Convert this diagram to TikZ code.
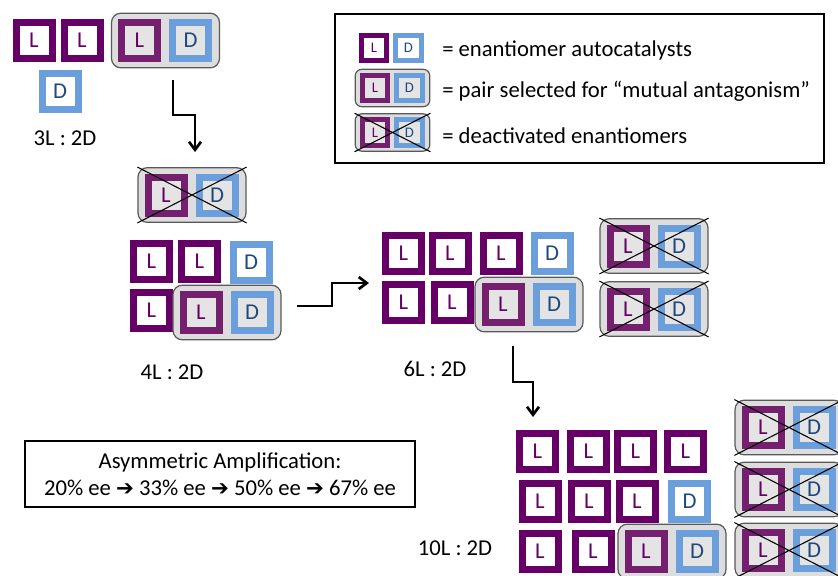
\documentclass[tikz,border=0pt]{standalone}
\usepackage{fontspec}
\setmainfont{Carlito}
\newfontfamily\symfont{DejaVu Sans}
\usetikzlibrary{arrows.meta,shadows}
\definecolor{lpur}{HTML}{660066}
\definecolor{lpursel}{HTML}{74206F}
\definecolor{dbl}{HTML}{6A9FDB}
\definecolor{dbltxt}{HTML}{1F497D}
\definecolor{selfill}{HTML}{E4E4E4}
\definecolor{grpfill}{HTML}{DDDDDD}
\tikzset{
  sqshadow/.style={drop shadow={shadow xshift=1.2pt,shadow yshift=-1.2pt,opacity=0.3}},
  Lsq/.style={draw=lpur, line width=5.25pt, fill=white, minimum size=27pt, inner sep=0pt,
    text=lpur, font=\fontsize{17}{17}\selectfont, sqshadow},
  Dsq/.style={draw=dbl, line width=5.25pt, fill=white, minimum size=27pt, inner sep=0pt,
    text=dbltxt, font=\fontsize{17}{17}\selectfont, sqshadow},
  selL/.style={draw=lpursel, fill=selfill},
  selD/.style={fill=selfill},
  small/.style={line width=3.75pt, minimum size=19pt, font=\fontsize{11}{11}\selectfont},
  grp/.style={draw=black!65, fill=grpfill, rounded corners=7pt, line width=0.9pt,
    minimum width=81pt, minimum height=41pt, inner sep=0pt},
  sgrp/.style={minimum width=56pt, minimum height=28pt, rounded corners=5pt},
  xline/.style={line width=0.8pt, black},
  flow/.style={line width=2pt, -{Straight Barb[length=6pt,width=9pt,line width=2pt]}},
  lbl/.style={font=\fontsize{17}{17}\selectfont, inner sep=0pt},
  box/.style={draw=black, line width=0.9pt}
}
\newcommand\selpair[3]{%
  \node[grp] (#1) at (#2,#3) {};
  \node[Lsq,selL] (#1-L) at (#2-26,#3) {L};
  \node[Dsq,selD] (#1-D) at (#2+25,#3) {D};
}
\newcommand\deadpair[3]{%
  \selpair{#1}{#2}{#3}
  \draw[xline] (#1.north west) -- (#1.south east) (#1.south west) -- (#1.north east);
}
\newcommand\harr{{\symfont\fontsize{16}{16}\selectfont ➔}}
\begin{document}
\begin{tikzpicture}[x=0.75pt,y=-0.75pt]
\path[use as bounding box, clip] (0,0) rectangle (838,575);

% ---------- Section 3L:2D ----------
\node[Lsq] (a1) at (34,40) {L};
\node[Lsq] (a2) at (82,40) {L};
\selpair{ga}{165.5}{40.5}
\node[Dsq] (a3) at (60,91) {D};
\node[lbl] (ta) at (65,138) {3L : 2D};

% ---------- Section 4L:2D ----------
\deadpair{xb}{192}{195}
\node[Lsq] (b1) at (151.5,261) {L};
\node[Lsq] (b2) at (199.5,261) {L};
\node[Dsq] (b3) at (251,262) {D};
\node[Lsq] (b4) at (151.5,310) {L};
\selpair{gb}{227}{312.5}
\node[lbl] (tb) at (172,372) {4L : 2D};

% ---------- Section 6L:2D ----------
\node[Lsq] (c1) at (403.5,253) {L};
\node[Lsq] (c2) at (450,253) {L};
\node[Lsq] (c3) at (501,253) {L};
\node[Dsq] (c4) at (552,253) {D};
\node[Lsq] (c5) at (403.5,302) {L};
\node[Lsq] (c6) at (452,302) {L};
\selpair{gc}{529}{304.5}
\deadpair{xc1}{654}{246}
\deadpair{xc2}{654}{309}
\node[lbl] (tc) at (435,369) {6L : 2D};

% ---------- Section 10L:2D ----------
\node[Lsq] (d1) at (537.5,451.5) {L};
\node[Lsq] (d2) at (588.5,451.5) {L};
\node[Lsq] (d3) at (635.5,451.5) {L};
\node[Lsq] (d4) at (685.5,451.5) {L};
\node[Lsq] (d5) at (540,501) {L};
\node[Lsq] (d6) at (589,501) {L};
\node[Lsq] (d7) at (637,501) {L};
\node[Dsq] (d8) at (689.5,501) {D};
\node[Lsq] (d9) at (540,551.5) {L};
\node[Lsq] (d10) at (593,551.5) {L};
\selpair{gd}{672}{551.5}
\deadpair{xd1}{789}{427.5}
\deadpair{xd2}{789}{489.5}
\deadpair{xd3}{789}{550.5}
\node[lbl] (td) at (455,548) {10L : 2D};

% ---------- Arrows ----------
\coordinate (s1) at (173,80);
\coordinate (e1) at (195,152);
\draw[flow] (s1) -- (173,115) -- (195,115) -- (e1);
\coordinate (s2) at (297,306);
\coordinate (e2) at (369,283);
\draw[flow] (s2) -- (332,306) -- (332,283) -- (e2);
\coordinate (s3) at (513,346);
\coordinate (e3) at (533,417);
\draw[flow] (s3) -- (513,382) -- (533,382) -- (e3);

% ---------- Legend ----------
\node[box, minimum width=366.75pt, minimum height=111.75pt, inner sep=0pt] (leg) at (579.5,88.5) {};
\node[Lsq,small] (kL) at (374,48) {L};
\node[Dsq,small] (kD) at (408.5,48) {D};
\node[grp,sgrp] (kg) at (392.5,88) {};
\node[Lsq,selL,small] (kgL) at (375,88) {L};
\node[Dsq,selD,small] (kgD) at (409.5,88) {D};
\node[grp,sgrp] (kx) at (392.5,132.5) {};
\node[Lsq,selL,small] (kxL) at (375,132.5) {L};
\node[Dsq,selD,small] (kxD) at (409.5,132.5) {D};
\draw[xline] (kx.north west) -- (kx.south east) (kx.south west) -- (kx.north east);
\node[lbl, anchor=west] (k1) at (442,50) {= enantiomer autocatalysts};
\node[lbl, anchor=west] (k2) at (442,91) {= pair selected for “mutual antagonism”};
\node[lbl, anchor=west] (k3) at (442,136) {= deactivated enantiomers};

% ---------- Amplification box ----------
\node[box, minimum width=292.5pt, minimum height=49.5pt, inner sep=0pt] (amp) at (220,474) {};
\node[lbl] (amp1) at (220,462) {Asymmetric Amplification:};
\node[lbl] (amp2) at (220,488) {20\% ee \harr{} 33\% ee \harr{} 50\% ee \harr{} 67\% ee};
\end{tikzpicture}
\end{document}
